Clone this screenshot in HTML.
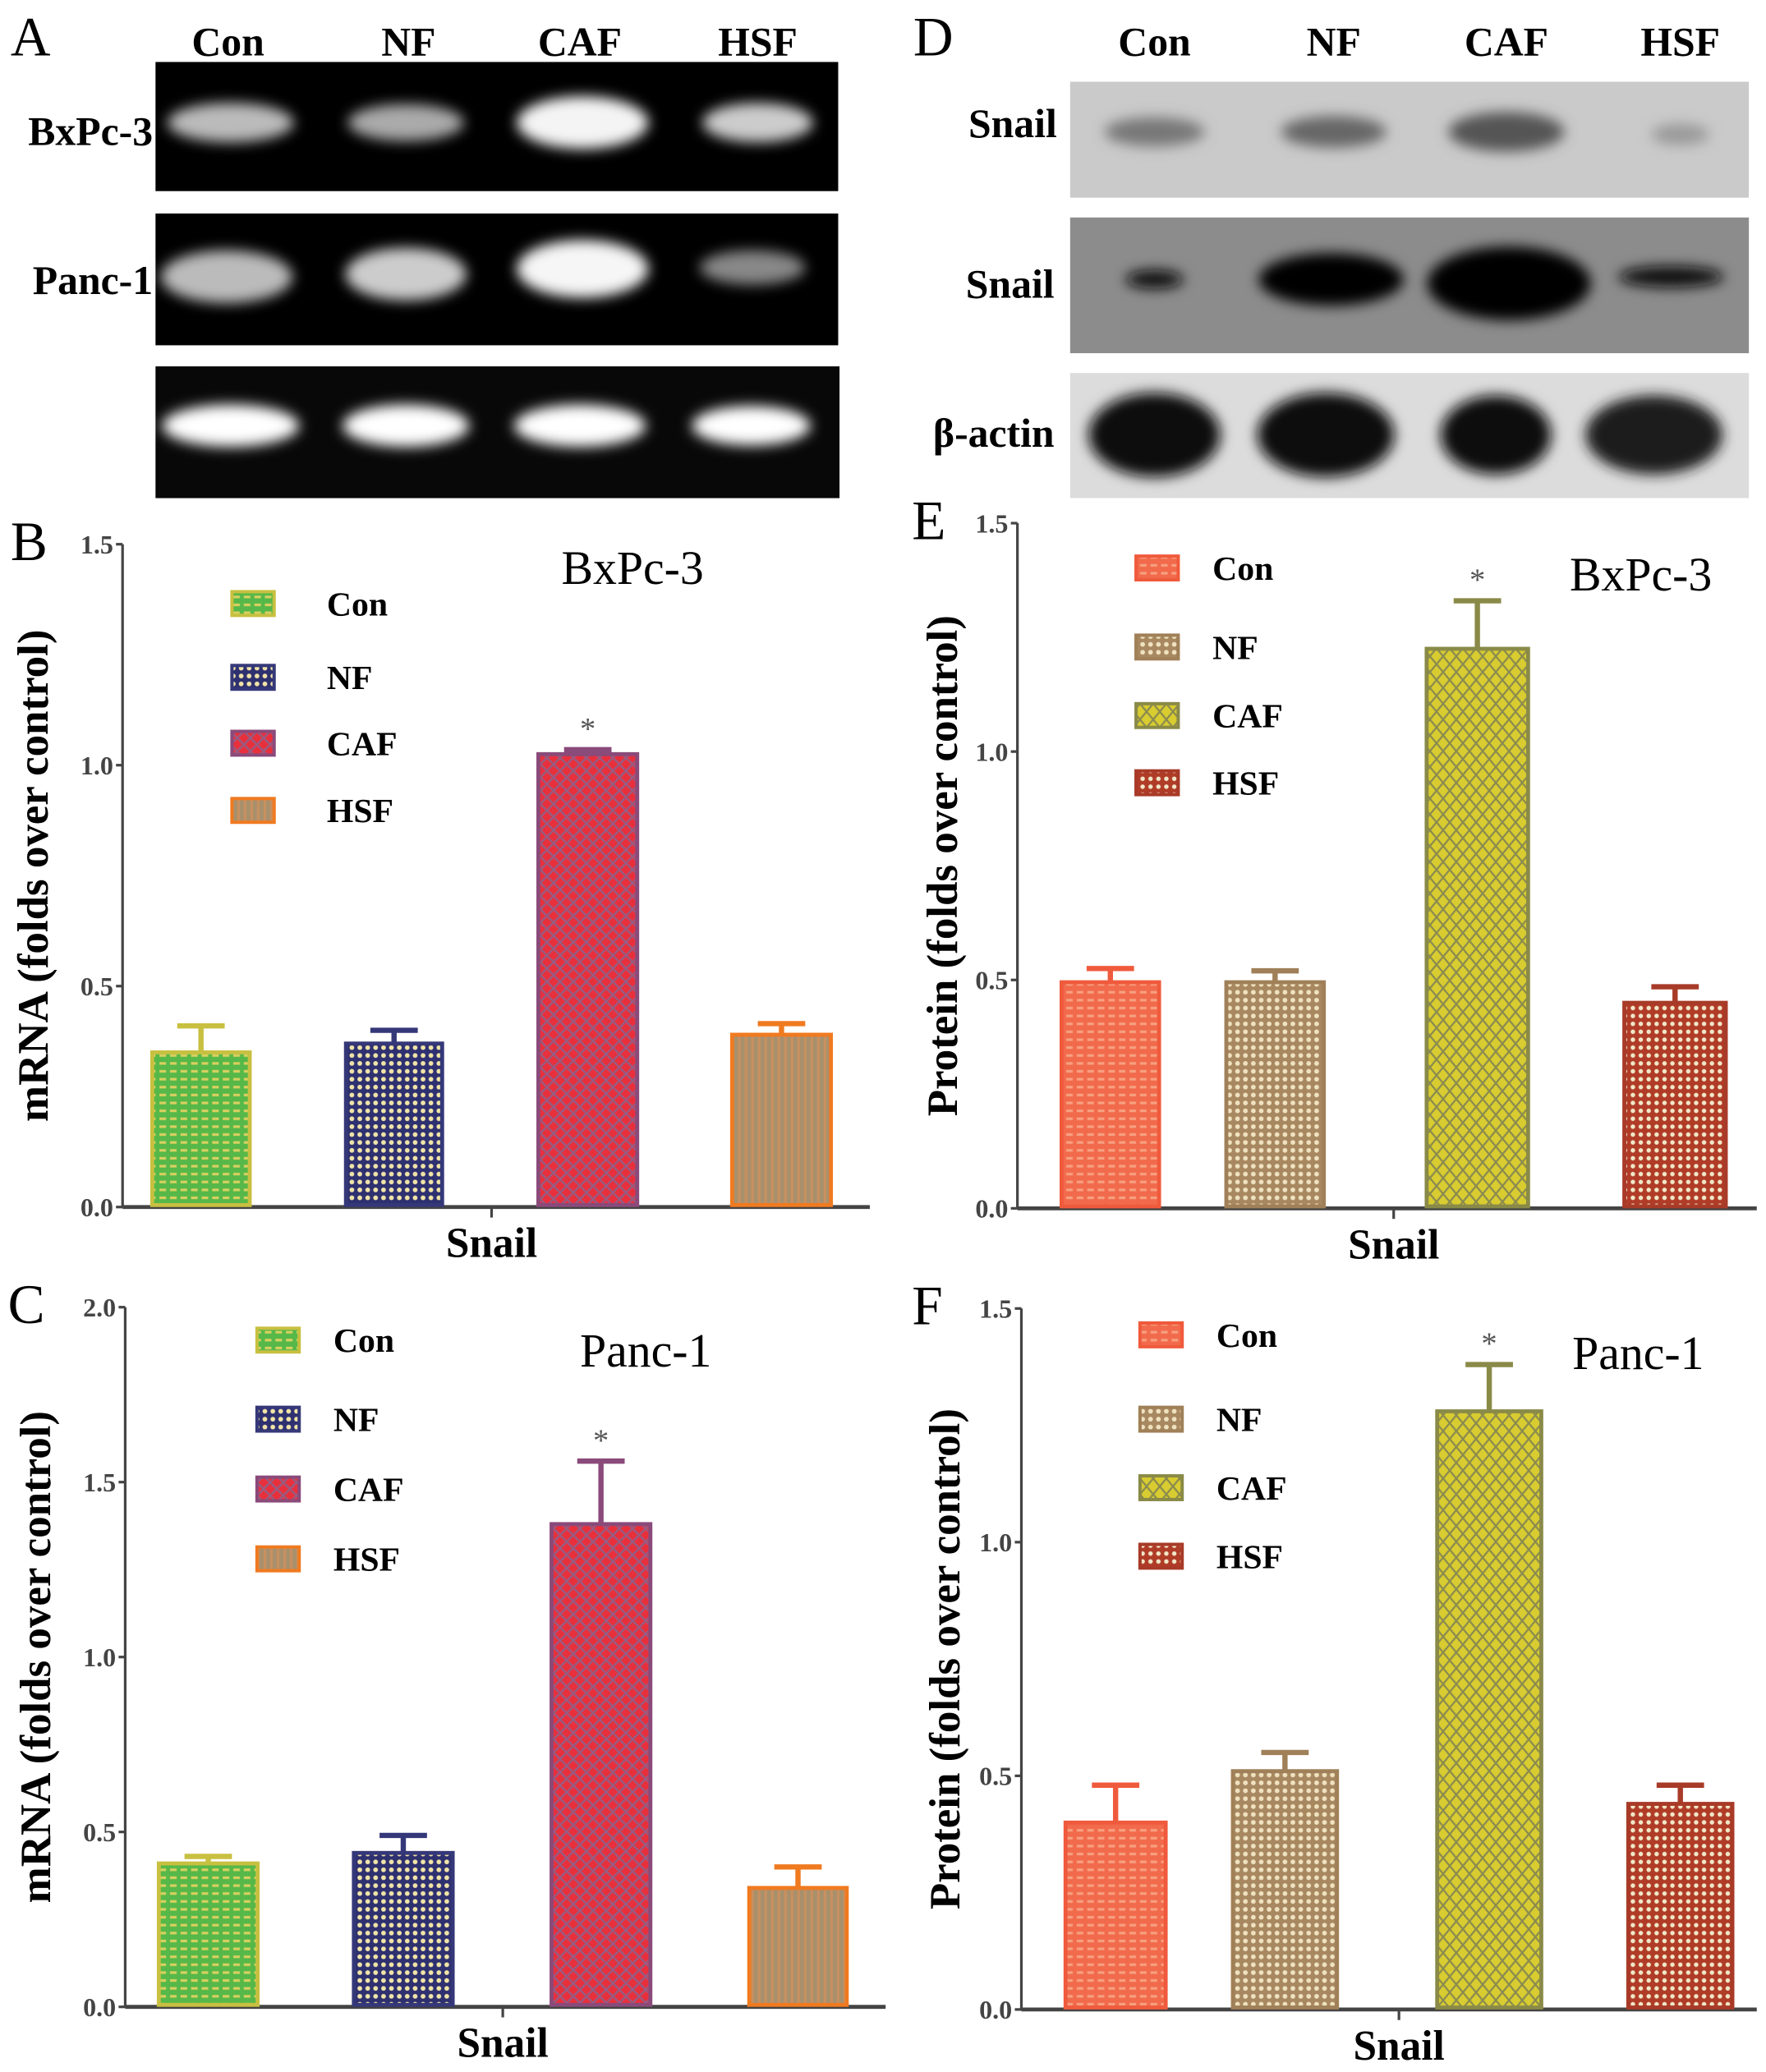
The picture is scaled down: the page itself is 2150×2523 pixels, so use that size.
<!DOCTYPE html>
<html><head><meta charset="utf-8"><style>
html,body{margin:0;padding:0;background:#fff}
svg{display:block}
text{font-family:"Liberation Serif",serif}
</style></head><body>
<svg id="fig" width="2150" height="2523" viewBox="0 0 1340 1572.4" xmlns="http://www.w3.org/2000/svg">
<defs>
<filter id="blur4"><feGaussianBlur stdDeviation="5"/></filter>
<pattern id="pGreen" width="8" height="6" patternUnits="userSpaceOnUse"><rect width="8" height="6" fill="#56b848"/><rect x="1" y="2" width="5" height="2" fill="#d8d060"/></pattern>
<pattern id="pNavy" width="6" height="6" patternUnits="userSpaceOnUse"><rect width="6" height="6" fill="#2e3070"/><circle cx="3" cy="3" r="1.8" fill="#f0e4a8"/></pattern>
<pattern id="pRed" width="10" height="10" patternUnits="userSpaceOnUse"><rect width="10" height="10" fill="#e8303c"/><path d="M0 0L10 10M10 0L0 10" stroke="#9a5a80" stroke-width="1.6"/></pattern>
<pattern id="pOrange" width="5" height="8" patternUnits="userSpaceOnUse"><rect width="5" height="8" fill="#a8906c"/><rect x="0" width="2" height="8" fill="#c89060"/></pattern>
<pattern id="pSalmon" width="8" height="6" patternUnits="userSpaceOnUse"><rect width="8" height="6" fill="#f26a4c"/><rect x="1" y="2" width="5" height="2" fill="#f6a080"/></pattern>
<pattern id="pTan" width="6" height="6" patternUnits="userSpaceOnUse"><rect width="6" height="6" fill="#a88860"/><circle cx="3" cy="3" r="1.8" fill="#efe2c0"/></pattern>
<pattern id="pOlive" width="10" height="12" patternUnits="userSpaceOnUse"><rect width="10" height="12" fill="#d8cc30"/><path d="M0 0L10 12M10 0L0 12" stroke="#8a8a50" stroke-width="1.4"/></pattern>
<pattern id="pBrown" width="6" height="6" patternUnits="userSpaceOnUse"><rect width="6" height="6" fill="#b03c28"/><circle cx="3" cy="3" r="1.7" fill="#f0e8c8"/></pattern>
</defs>

<g>
<text x="8" y="42" font-size="42">A</text>
<g font-size="31" font-weight="bold" text-anchor="middle">
<text x="173" y="42">Con</text>
<text x="310" y="42">NF</text>
<text x="440" y="42">CAF</text>
<text x="575" y="42">HSF</text>
</g>
<text x="116" y="110" font-size="31" font-weight="bold" text-anchor="end">BxPc-3</text>
<text x="116" y="223" font-size="31" font-weight="bold" text-anchor="end">Panc-1</text>
<rect x="118" y="47" width="518" height="98" fill="#000"/>
<rect x="118" y="162" width="518" height="100" fill="#000"/>
<rect x="118" y="278" width="519" height="100" fill="#080808"/>
<g filter="url(#blur4)">
<ellipse cx="175" cy="93" rx="48" ry="15" fill="#bbb"/><ellipse cx="308" cy="93" rx="44" ry="14" fill="#aaa"/><ellipse cx="442" cy="93" rx="50" ry="20" fill="#f4f4f4"/><ellipse cx="575" cy="93" rx="42" ry="15" fill="#ccc"/>
<ellipse cx="172" cy="210" rx="50" ry="20" fill="#bbb"/><ellipse cx="308" cy="208" rx="46" ry="20" fill="#ccc"/><ellipse cx="442" cy="204" rx="50" ry="22" fill="#f6f6f6"/><ellipse cx="571" cy="203" rx="40" ry="13" fill="#888"/>
<ellipse cx="175" cy="323" rx="52" ry="16" fill="#fff"/><ellipse cx="308" cy="323" rx="48" ry="16" fill="#fff"/><ellipse cx="440" cy="323" rx="50" ry="16" fill="#fff"/><ellipse cx="570" cy="323" rx="45" ry="15" fill="#fff"/>
</g>
</g>

<g>
<text x="693" y="42" font-size="42">D</text>
<g font-size="31" font-weight="bold" text-anchor="middle">
<text x="876" y="42">Con</text>
<text x="1012" y="42">NF</text>
<text x="1143" y="42">CAF</text>
<text x="1275" y="42">HSF</text>
</g>
<g font-size="31" font-weight="bold" text-anchor="end">
<text x="802" y="104">Snail</text>
<text x="800" y="226">Snail</text>
<text x="800" y="339">β-actin</text>
</g>
<rect x="812" y="62" width="515" height="88" fill="#cacaca"/>
<rect x="812" y="165" width="515" height="103" fill="#8c8c8c"/>
<rect x="812" y="283" width="515" height="95" fill="#dcdcdc"/>
<g filter="url(#blur4)">
<ellipse cx="876" cy="100" rx="38" ry="11" fill="#777"/><ellipse cx="1012" cy="100" rx="40" ry="12" fill="#666"/><ellipse cx="1143" cy="100" rx="44" ry="15" fill="#555"/><ellipse cx="1275" cy="102" rx="22" ry="8" fill="#999"/>
<ellipse cx="876" cy="212" rx="22" ry="7" fill="#111"/><ellipse cx="1010" cy="212" rx="55" ry="20" fill="#000"/><ellipse cx="1145" cy="215" rx="62" ry="28" fill="#000"/><ellipse cx="1268" cy="210" rx="40" ry="8" fill="#111"/>
<ellipse cx="876" cy="330" rx="50" ry="32" fill="#111"/><ellipse cx="1006" cy="330" rx="52" ry="32" fill="#111"/><ellipse cx="1135" cy="330" rx="42" ry="30" fill="#111"/><ellipse cx="1255" cy="330" rx="52" ry="30" fill="#1a1a1a"/>
</g>
</g>

<g id="charts"></g>
</svg>
<script>
const categories = ["Con","NF","CAF","HSF"];
const bMeans = [0.35, 0.37, 1.025, 0.39];
const bErr   = [0.06, 0.03, 0.01, 0.025];
const bTicks = ["0.0","0.5","1.0","1.5"];
const cMeans = [0.41, 0.44, 1.38, 0.34];
const cErr   = [0.02, 0.05, 0.18, 0.06];
const cTicks = ["0.0","0.5","1.0","1.5","2.0"];
const eMeans = [0.495, 0.495, 1.225, 0.45];
const eErr   = [0.03, 0.025, 0.105, 0.035];
const eTicks = ["0.0","0.5","1.0","1.5"];
const fMeans = [0.40, 0.51, 1.28, 0.44];
const fErr   = [0.08, 0.04, 0.10, 0.04];
const fTicks = ["0.0","0.5","1.0","1.5"];

const NS = "http://www.w3.org/2000/svg";
const root = document.getElementById("charts");
function mk(tag, attrs, parent){const e=document.createElementNS(NS,tag);for(const k in attrs)e.setAttribute(k,attrs[k]);(parent||root).appendChild(e);return e;}

const fillsMRNA=[["url(#pGreen)","#c8c040"],["url(#pNavy)","#353878"],["url(#pRed)","#8a4a7a"],["url(#pOrange)","#f07a20"]];
const fillsProt=[["url(#pSalmon)","#f05a3c"],["url(#pTan)","#a08058"],["url(#pOlive)","#8a8a48"],["url(#pBrown)","#a83a28"]];

function chart(cfg){
  const g = mk("g",{});
  
  
  const yMax = parseFloat(cfg.ticks[cfg.ticks.length-1]);
  const y = v => cfg.y0 - (v / yMax) * (cfg.y0 - cfg.yTop);
  const L = mk("text",{x:cfg.letterX,y:cfg.yTop+12,"font-size":42},g); L.textContent=cfg.letter;
  
  
  const ya = mk("line",{x1:cfg.ax,y1:cfg.yTop,x2:cfg.ax,y2:cfg.y0,stroke:"#444","stroke-width":2},g);
  
  
  const xa = mk("line",{x1:cfg.ax,y1:cfg.y0,x2:cfg.xEnd,y2:cfg.y0,stroke:"#444","stroke-width":3},g);
  
  
  cfg.ticks.forEach(t=>{
    const v=parseFloat(t), yy=y(v);
    mk("line",{x1:cfg.ax-5,y1:yy,x2:cfg.ax,y2:yy,stroke:"#444","stroke-width":2},g);
    const tx = mk("text",{x:cfg.ax-7,y:yy+7,"font-size":20,"font-weight":"bold","text-anchor":"end","font-family":"Liberation Sans Narrow, Liberation Sans, sans-serif",fill:"#444"},g);
    tx.textContent=t;
    
    
  });
  const mid=(cfg.xs[0][0]+cfg.xs[3][1])/2;
  mk("line",{x1:mid,y1:cfg.y0,x2:mid,y2:cfg.y0+8,stroke:"#444","stroke-width":2},g);
  const xl = mk("text",{x:mid,y:cfg.y0+38,"font-size":32,"font-weight":"bold","text-anchor":"middle"},g);
  xl.textContent="Snail";
  
  
  const yl = mk("text",{x:0,y:0,"font-size":33,"font-weight":"bold","text-anchor":"middle",transform:`translate(${cfg.ylx},${(cfg.yTop+cfg.y0)/2}) rotate(-90)`},g);
  yl.textContent=cfg.ylabel;
  
  
  const tt = mk("text",{x:cfg.titleX,y:cfg.titleY,"font-size":36,"text-anchor":"middle"},g);
  tt.textContent=cfg.title;
  
  
  cfg.means.forEach((m,i)=>{
    const [x1,x2]=cfg.xs[i], yt=y(m), ye=y(m+cfg.err[i]), cx=(x1+x2)/2;
    const [fill,stroke]=cfg.fills[i];
    const eb = mk("path",{d:`M${cx} ${yt}V${ye}M${cx-18} ${ye}H${cx+18}`,stroke:stroke,"stroke-width":4,fill:"none"},g);
    
    
    const r = mk("rect",{x:x1+1.5,y:yt,width:x2-x1-3,height:cfg.y0-yt-1.5,fill:fill,stroke:stroke,"stroke-width":3},g);
    
    
    if(i===2){
      const s = mk("text",{x:cx,y:ye-8,"font-size":24,"text-anchor":"middle",fill:"#555"},g);
      s.textContent="*";
      
      
    }
  });
  categories.forEach((c,i)=>{
    const ly=cfg.legY[i];
    const sw = mk("rect",{x:cfg.legX,y:ly-9,width:32,height:18,fill:cfg.fills[i][0],stroke:cfg.fills[i][1],"stroke-width":2.5},g);
    
    
    const lt = mk("text",{x:cfg.legX+cfg.legGap,y:ly+9,"font-size":26,"font-weight":"bold"},g);
    lt.textContent=c;
    
    
  });
}

chart({name:"chart-b-mrna-bxpc3",letter:"B",letterX:8,ax:93,yTop:413,y0:916,xEnd:660,ticks:bTicks,means:bMeans,err:bErr,
  xs:[[114,191],[261,337],[407,485],[554,632]],fills:fillsMRNA,ylabel:"mRNA (folds over control)",ylx:36,
  title:"BxPc-3",titleX:480,titleY:443,legX:176,legGap:72,legY:[458,514,564,615]});
chart({name:"chart-c-mrna-panc1",letter:"C",letterX:6,ax:95,yTop:992,y0:1523,xEnd:672,ticks:cTicks,means:cMeans,err:cErr,
  xs:[[119,197],[267,345],[417,495],[567,644]],fills:fillsMRNA,ylabel:"mRNA (folds over control)",ylx:38,
  title:"Panc-1",titleX:490,titleY:1037,legX:195,legGap:58,legY:[1017,1077,1130,1183]});
chart({name:"chart-e-protein-bxpc3",letter:"E",letterX:692,ax:772,yTop:397,y0:917,xEnd:1333,ticks:eTicks,means:eMeans,err:eErr,
  xs:[[804,881],[929,1006],[1081,1161],[1231,1311]],fills:fillsProt,ylabel:"Protein (folds over control)",ylx:726,
  title:"BxPc-3",titleX:1245,titleY:448,legX:862,legGap:58,legY:[431,491,543,594]});
chart({name:"chart-f-protein-panc1",letter:"F",letterX:692,ax:775,yTop:993,y0:1525,xEnd:1333,ticks:fTicks,means:fMeans,err:fErr,
  xs:[[807,886],[934,1016],[1089,1171],[1234,1316]],fills:fillsProt,ylabel:"Protein (folds over control)",ylx:728,
  title:"Panc-1",titleX:1243,titleY:1039,legX:865,legGap:58,legY:[1013,1077,1129,1181]});
</script>
</body></html>
